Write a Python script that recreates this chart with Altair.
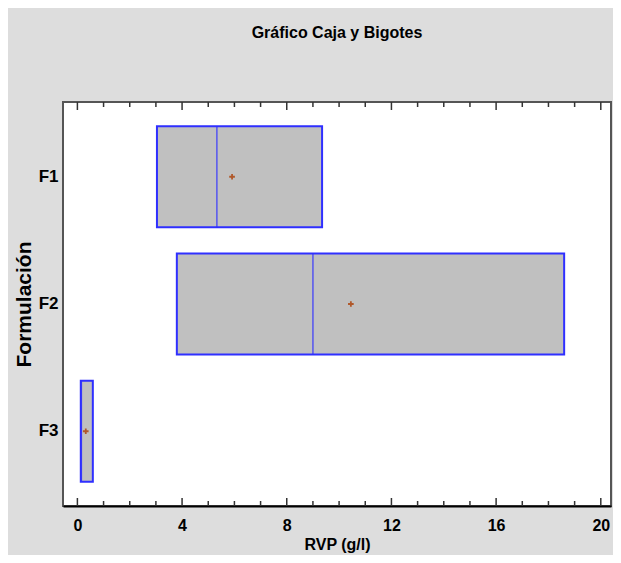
import altair as alt
import pandas as pd

formulas = ["F1", "F2", "F3"]
q1 = [3.04, 3.80, 0.13]
median = [5.33, 9.00, 0.15]
q3 = [9.35, 18.60, 0.59]
mean = [5.91, 10.45, 0.32]

major_ticks = [0, 4, 8, 12, 16, 20]
minor_ticks = [v for v in range(0, 21) if v not in major_ticks]

df = pd.DataFrame({"F": formulas, "q1": q1, "med": median, "q3": q3, "mean": mean})
maj = pd.DataFrame({"t": major_ticks})
mnr = pd.DataFrame({"t": minor_ticks})

W, H = 548, 404
FONT = "Liberation Sans Narrow, Arial Narrow, Liberation Sans, Arial, sans-serif"

xscale = alt.Scale(domain=[-0.55, 20.39], nice=False, zero=False)
yscale = alt.Scale(domain=formulas, paddingInner=0.205, paddingOuter=0.19)

x_axis = alt.Axis(values=major_ticks, ticks=False, grid=False, domainColor="black",
                  domainWidth=2, labelFont=FONT, labelFontSize=16, labelFontWeight="bold",
                  labelColor="black", labelPadding=11, title="RVP (g/l)", titleFont=FONT,
                  titleFontSize=16, titleFontWeight="bold", titleColor="black", titlePadding=3,
                  labelFlush=False)
y_axis = alt.Axis(ticks=False, domain=False, grid=False, labelFont=FONT, labelFontSize=17,
                  labelFontWeight="bold", labelColor="black", labelPadding=5,
                  title="Formulación", titleFont="Liberation Sans, Arial, sans-serif",
                  titleFontSize=21, titleFontWeight="bold", titleColor="black", titlePadding=4)

boxes = alt.Chart(df).mark_bar(fill="#c0c0c0", stroke="#2f2fff", strokeWidth=2).encode(
    x=alt.X("q1:Q", scale=xscale, axis=x_axis),
    x2="q3:Q",
    y=alt.Y("F:N", scale=yscale, axis=y_axis, sort=formulas),
)
meds = alt.Chart(df).mark_tick(color="#2f2fff", thickness=1.6, size=101, orient="vertical").encode(
    x=alt.X("med:Q", scale=xscale),
    y=alt.Y("F:N", scale=yscale, sort=formulas),
)
means = alt.Chart(df).mark_point(shape="M-1,0H1M0,-1V1", stroke="#b0582a", strokeWidth=1.8,
                                 size=32, opacity=1).encode(
    x=alt.X("mean:Q", scale=xscale),
    y=alt.Y("F:N", scale=yscale, sort=formulas),
)

def tick_rules(data, y0, y1):
    return alt.Chart(data).mark_rule(color="#333333", strokeWidth=1.5).encode(
        x=alt.X("t:Q", scale=xscale), y=alt.value(y0), y2=alt.value(y1))

rules = (tick_rules(maj, H, H - 8) + tick_rules(mnr, H, H - 5)
         + tick_rules(maj, 0, 8) + tick_rules(mnr, 0, 5))

chart = alt.layer(boxes, meds, means, rules).properties(
    width=W, height=H,
    title=alt.TitleParams("Gráfico Caja y Bigotes", font=FONT, fontSize=16, fontWeight="bold",
                          color="black", anchor="middle", offset=60),
    autosize=alt.AutoSizeParams(type="none"),
    padding={"left": 55, "top": 94, "right": 2, "bottom": 49},
    background="#dddddd",
).configure_view(fill="white", stroke="#555555", strokeWidth=2)

chart.save("out.html", embed_options={"renderer": "svg", "actions": False})
